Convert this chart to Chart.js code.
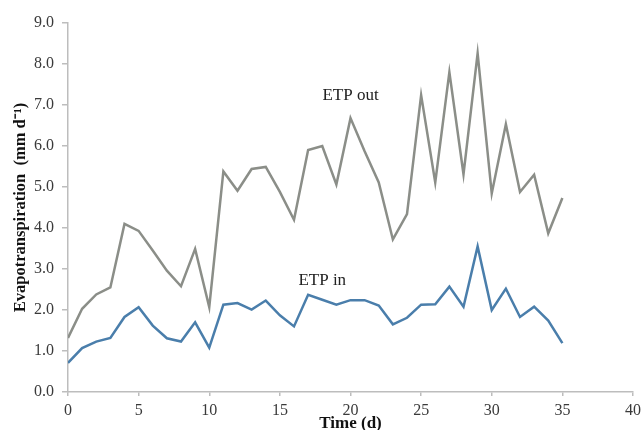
<!DOCTYPE html>
<html>
<head>
<meta charset="utf-8">
<script src="https://cdn.jsdelivr.net/npm/chart.js@4"></script>
<style>
html,body{margin:0;padding:0;background:#fff;}
#wrap{width:641px;height:430px;position:relative;}
</style>
</head>
<body>
<div id="wrap"><canvas id="c" width="641" height="430"></canvas></div>
<script>
const days = [0,1,2,3,4,5,6,7,8,9,10,11,12,13,14,15,16,17,18,19,20,21,22,23,24,25,26,27,28,29,30,31,32,33,34,35];
const etpOut = [1.32,2.03,2.38,2.55,4.10,3.93,3.45,2.96,2.58,3.49,2.07,5.38,4.91,5.44,5.49,4.88,4.20,5.90,6.00,5.06,6.68,5.87,5.11,3.72,4.34,7.24,5.11,7.80,5.31,8.26,4.84,6.53,4.88,5.30,3.87,4.73];
const etpIn = [0.71,1.07,1.23,1.32,1.83,2.07,1.62,1.31,1.23,1.70,1.08,2.13,2.17,2.01,2.23,1.87,1.60,2.37,2.25,2.13,2.24,2.24,2.11,1.65,1.81,2.13,2.14,2.57,2.08,3.55,2.00,2.52,1.83,2.08,1.74,1.19];
const xTicks = [0,5,10,15,20,25,30,35,40];
const yTicks = [0,1,2,3,4,5,6,7,8,9];
const seriesLabels = [
  {text:'ETP out', x:20.0, y:7.22},
  {text:'ETP in', x:18.0, y:2.71}
];

const toPts = (ys) => ys.map((v,i)=>({x:days[i], y:v}));

const labelPlugin = {
  id:'seriesLabels',
  afterDatasetsDraw(chart){
    const {ctx, scales:{x,y}} = chart;
    ctx.save();
    ctx.font = '17px "Liberation Serif"';
    ctx.fillStyle = '#222';
    ctx.textAlign = 'center';
    ctx.textBaseline = 'middle';
    seriesLabels.forEach(l=>ctx.fillText(l.text, x.getPixelForValue(l.x), y.getPixelForValue(l.y)));
    ctx.restore();
  }
};

new Chart(document.getElementById('c'), {
  type:'line',
  data:{
    datasets:[
      {label:'ETP out', data:toPts(etpOut), borderColor:'#8b8e88', borderWidth:2.5, pointRadius:0, tension:0, fill:false},
      {label:'ETP in', data:toPts(etpIn), borderColor:'#4a7eab', borderWidth:2.5, pointRadius:0, tension:0, fill:false}
    ]
  },
  options:{
    responsive:false,
    animation:false,
    layout:{padding:{top:23,right:0,left:0,bottom:0}},
    plugins:{legend:{display:false}, tooltip:{enabled:false}},
    scales:{
      x:{
        type:'linear', min:0, max:40,
        afterBuildTicks(s){ s.ticks = xTicks.map(v=>({value:v})); },
        afterFit(s){ s.height = 38; s.paddingRight = 8; },
        grid:{display:true, drawOnChartArea:false, drawTicks:true, tickLength:4, color:'#bdbdbd', lineWidth:1.5},
        border:{color:'#bdbdbd', width:1.5},
        ticks:{color:'#3a3a3a', font:{family:'"Liberation Serif"', size:16}, padding:5, maxRotation:0},
        title:{display:true, text:'Time (d)', color:'#111', font:{family:'"Liberation Serif"', size:17, weight:'bold'}, padding:{top:-1,bottom:-4}}
      },
      y:{
        type:'linear', min:0, max:9,
        afterBuildTicks(s){ s.ticks = yTicks.map(v=>({value:v})); },
        afterFit(s){ s.width = 68; },
        grid:{display:true, drawOnChartArea:false, drawTicks:true, tickLength:6, color:'#bdbdbd', lineWidth:1.5},
        border:{color:'#bdbdbd', width:1.5},
        ticks:{color:'#3a3a3a', font:{family:'"Liberation Serif"', size:16}, padding:8, callback:(v)=>Number(v).toFixed(1)},
        title:{display:true, text:'Evapotranspiration  (mm d\u207B\u00B9)', color:'#111', font:{family:'"Liberation Serif"', size:16.5, weight:'bold'}, padding:{top:11,bottom:0}}
      }
    }
  },
  plugins:[labelPlugin]
});
</script>
</body>
</html>
